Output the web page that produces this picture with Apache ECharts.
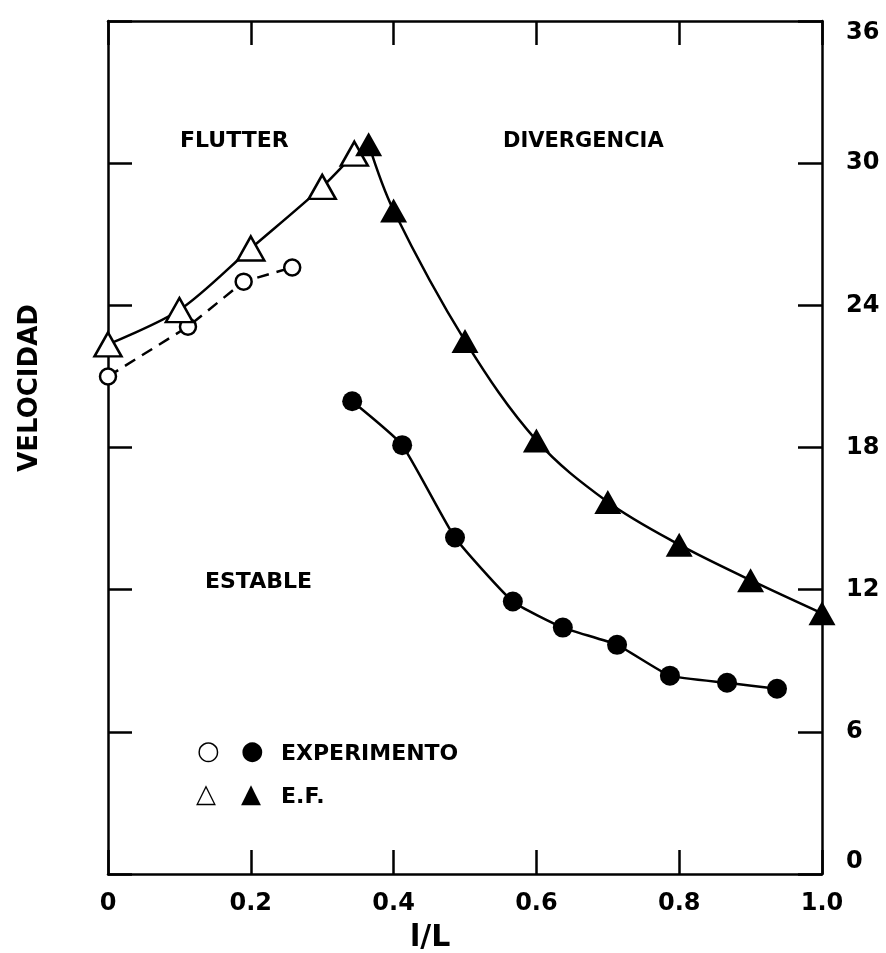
<!DOCTYPE html>
<html>
<head>
<meta charset="utf-8">
<script src="https://cdn.jsdelivr.net/npm/echarts@6/dist/echarts.min.js"></script>
<style>
html,body{margin:0;padding:0;background:#fff;}
#chart{width:886px;height:953px;}
</style>
</head>
<body>
<div id="chart"></div>
<script>
// Data (x = l/L, y = velocidad)
var xTicks = [0, 0.2, 0.4, 0.6, 0.8, 1.0];
var yTicks = [0, 6, 12, 18, 24, 30, 36];

var expFlutterX = [0.0, 0.112, 0.19, 0.258];
var expFlutterY = [21.0, 23.1, 25.0, 25.6];

var expDivX = [0.342, 0.412, 0.486, 0.567, 0.637, 0.713, 0.787, 0.867, 0.937];
var expDivY = [19.95, 18.1, 14.2, 11.5, 10.4, 9.67, 8.37, 8.07, 7.82];

var efFlutterX = [0.0, 0.1, 0.2, 0.3, 0.345];
var efFlutterY = [22.35, 23.8, 26.4, 29.0, 30.4];

var efDivX = [0.365, 0.4, 0.5, 0.6, 0.7, 0.8, 0.9, 1.0];
var efDivY = [30.8, 28.0, 22.5, 18.3, 15.7, 13.9, 12.4, 11.0];

function pairs(xs, ys){ return xs.map(function(x,i){ return [x, ys[i]]; }); }

var FONT = '"DejaVu Sans", sans-serif';
var chart = echarts.init(document.getElementById('chart'), null, {renderer:'canvas'});

var axisLine = {show:true, onZero:false, lineStyle:{color:'#000', width:2.5}};
var tickIn = {show:true, inside:true, length:24, lineStyle:{color:'#000', width:2.5}};
var txt = function(s, size){ return {text:s, fontSize:size, fontWeight:'bold', fontFamily:FONT, fill:'#000'}; };

chart.setOption({
  backgroundColor:'#fff',
  animation:false,
  grid:{left:108, right:64, top:21, bottom:79, show:false},
  xAxis:[{
    type:'value', min:0, max:1, interval:0.2, position:'bottom',
    axisLine:axisLine, axisTick:tickIn, splitLine:{show:false},
    axisLabel:{color:'#000', fontSize:24, fontWeight:'bold', fontFamily:FONT, margin:18,
      formatter:function(v){ var r=Math.round(v*10)/10; return r===0?'0':r.toFixed(1); }}
  },{
    type:'value', min:0, max:1, interval:0.2, position:'top',
    axisLine:axisLine, axisTick:tickIn, axisLabel:{show:false}, splitLine:{show:false}
  }],
  yAxis:[{
    type:'value', min:0, max:36, interval:6, position:'left',
    axisLine:axisLine, axisTick:tickIn, axisLabel:{show:false}, splitLine:{show:false}
  },{
    type:'value', min:0, max:36, interval:6, position:'right',
    axisLine:axisLine, axisTick:tickIn, splitLine:{show:false},
    axisLabel:{color:'#000', fontSize:24, fontWeight:'bold', fontFamily:FONT, margin:24,
      verticalAlignMinLabel:'bottom', verticalAlignMaxLabel:'top',
      formatter:function(v){ return yTicks.indexOf(v)>=0 ? String(v) : ''; }}
  }],
  series:[
    {type:'line', name:'exp-flutter', data:pairs(expFlutterX, expFlutterY),
     symbol:'circle', symbolSize:16, showSymbol:true,
     itemStyle:{color:'#fff', borderColor:'#000', borderWidth:2.5},
     lineStyle:{color:'#000', width:2.5, type:[12,8]}, z:3},
    {type:'line', name:'exp-div', data:pairs(expDivX, expDivY), smooth:0.15,
     symbol:'circle', symbolSize:20,
     itemStyle:{color:'#000', borderColor:'#000', borderWidth:0},
     lineStyle:{color:'#000', width:2.5}, z:3},
    {type:'line', name:'ef-flutter', data:pairs(efFlutterX, efFlutterY), smooth:0.3,
     symbol:'triangle', symbolSize:[27,24],
     itemStyle:{color:'#fff', borderColor:'#000', borderWidth:2.5},
     lineStyle:{color:'#000', width:2.5}, z:4},
    {type:'line', name:'ef-div', data:pairs(efDivX, efDivY), smooth:0.35,
     symbol:'triangle', symbolSize:[27,24],
     itemStyle:{color:'#000', borderColor:'#000', borderWidth:0},
     lineStyle:{color:'#000', width:2.5}, z:5}
  ],
  graphic:[
    {type:'text', left:180, top:130, style:txt('FLUTTER', 22)},
    {type:'text', left:503, top:131, style:txt('DIVERGENCIA', 21)},
    {type:'text', left:205, top:571, style:txt('ESTABLE', 22)},
    {type:'text', left:197, top:739, style:txt('\u25CB', 26)},
    {type:'text', left:241, top:739, style:txt('\u25CF', 26)},
    {type:'text', left:281, top:743, style:txt('EXPERIMENTO', 22)},
    {type:'text', left:196, top:782, style:txt('\u25B3', 26)},
    {type:'text', left:241, top:782, style:txt('\u25B2', 26)},
    {type:'text', left:281, top:786, style:txt('E.F.', 22)},
    {type:'text', left:410, top:923, style:txt('l/L', 30)},
    {type:'text', x:30, y:388, rotation:Math.PI/2,
     style:{text:'VELOCIDAD', fontSize:26, fontWeight:'bold', fontFamily:FONT, fill:'#000', align:'center', verticalAlign:'middle'}}
  ]
});
</script>
</body>
</html>
